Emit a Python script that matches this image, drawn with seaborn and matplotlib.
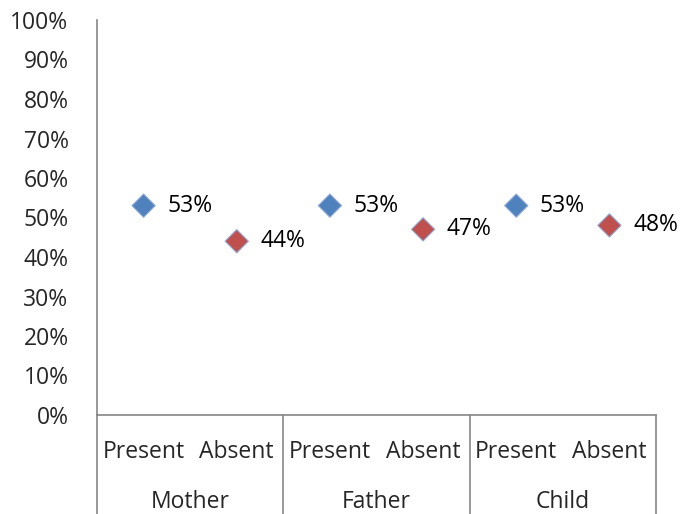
import matplotlib
matplotlib.use("Agg")
from matplotlib import pyplot as plt
from matplotlib.ticker import PercentFormatter
import matplotlib.transforms as mtransforms
import pandas as pd
import seaborn as sns

groups = ['Mother', 'Mother', 'Father', 'Father', 'Child', 'Child']
status = ['Present', 'Absent', 'Present', 'Absent', 'Present', 'Absent']
values = [0.53, 0.44, 0.53, 0.47, 0.53, 0.48]
group_names = ['Mother', 'Father', 'Child']

sns.set_style('white')
plt.rcParams['font.family'] = ['Open Sans', 'DejaVu Sans']
FS = 16.5

df = pd.DataFrame({'group': groups, 'status': status, 'value': values})
df['pos'] = range(len(df))

fig = plt.figure(figsize=(6.94, 5.14), dpi=100)
ax = fig.add_axes([97 / 694, 1 - 415 / 514, (656 - 97) / 694, (415 - 20) / 514])

sns.scatterplot(ax=ax, data=df, x='pos', y='value', hue='status',
                palette={'Present': '#4F81BD', 'Absent': '#C0504D'},
                marker='D', s=140, edgecolor='#8EA9D8', linewidth=0.8,
                legend=False, zorder=3)

for _, row in df.iterrows():
    ax.annotate(f"{row['value']:.0%}", (row['pos'], row['value']),
                xytext=(17, 0), textcoords='offset points',
                ha='left', va='center', fontsize=FS, color='black')

ax.set_xlim(-0.5, 5.5)
ax.set_ylim(0, 1)
ax.set_yticks([i / 10 for i in range(11)])
ax.yaxis.set_major_formatter(PercentFormatter(1.0, decimals=0))
ax.tick_params(axis='y', labelsize=FS, pad=17, left=False)
ax.set_xticks([])
ax.set_xlabel('')
ax.set_ylabel('')

axis_color = '#868686'
for pos in ['top', 'right']:
    ax.spines[pos].set_visible(False)
ax.spines['left'].set_color(axis_color)
ax.spines['bottom'].set_color(axis_color)
ax.spines['left'].set_linewidth(1.2)
ax.spines['bottom'].set_linewidth(1.2)

# multi-level category axis below the plot
trans = mtransforms.blended_transform_factory(ax.transData, ax.transAxes)
bottom = -99 / 395
for x in [-0.5, 1.5, 3.5, 5.5]:
    ax.plot([x, x], [0, bottom], transform=trans, color=axis_color,
            linewidth=1.2, clip_on=False)
for i, s in enumerate(status):
    ax.text(i, -37 / 395, s, transform=trans, ha='center', va='center',
            fontsize=FS)
for j, g in enumerate(group_names):
    ax.text(2 * j + 0.5, -87 / 395, g, transform=trans, ha='center',
            va='center', fontsize=FS)

fig.savefig('out.png', dpi=100)
